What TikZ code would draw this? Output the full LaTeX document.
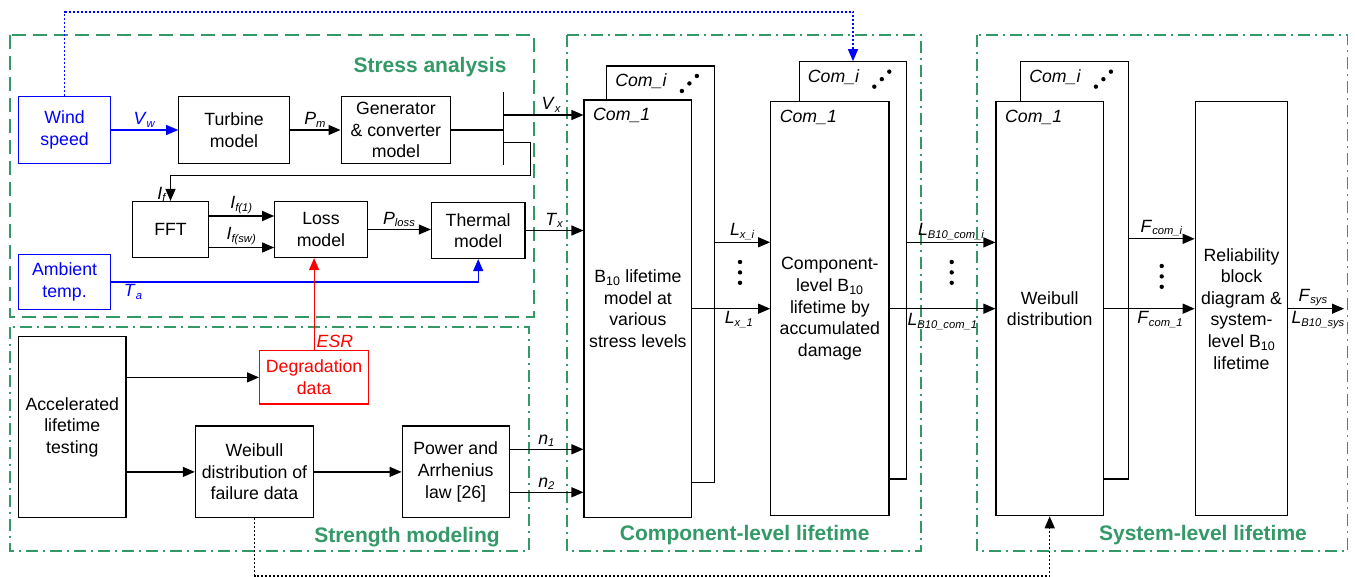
\documentclass[tikz,border=0pt]{standalone}
\usepackage{fontspec}
\setmainfont{Liberation Sans}
\usetikzlibrary{arrows.meta,positioning,calc}
\definecolor{frame}{HTML}{339966}
\definecolor{wind}{HTML}{0000FF}
\definecolor{degr}{HTML}{FF0000}
\newcommand\bodyfont{\fontsize{17.7}{21.6}\selectfont}
\newcommand\sym[2]{\textit{#1}\textsubscript{\fontsize{11.2}{12}\selectfont\textit{#2}}}
\tikzset{
  box/.style={draw,line width=1.2pt,fill=white,align=center,font=\bodyfont,inner sep=1pt},
  arrow/.style={-{Triangle[length=12pt,width=10pt]},line width=1.2pt},
  wire/.style={line width=1.2pt},
  note/.style={font=\bodyfont,inner sep=2pt},
  group/.style={draw=frame,line width=1.5pt,dash pattern=on 12pt off 5pt on 2pt off 5pt},
  groupname/.style={font=\fontsize{21}{25}\selectfont\bfseries,text=frame},
  comtag/.style={font=\bodyfont\itshape,anchor=west,inner sep=0pt},
  link/.style={line width=1.4pt,dash pattern=on 2pt off 2pt}
}
\begin{document}
\begin{tikzpicture}[x=1pt,y=-1pt]
  \useasboundingbox (0,0) rectangle (1355,577);

  % frames of the four stages
  \draw[group,dash pattern=on 14pt off 7pt] (10,35) rectangle (534,317);
  \draw[group] (10,327) rectangle (529,551);
  \draw[group] (567,35) rectangle (921,551);
  \draw[group] (977,35) rectangle (1347.5,551);
  \node[groupname] (stresslab) at (430,66.7) {Stress analysis};
  \node[groupname] (strengthlab) at (407,537.3) {Strength modeling};
  \node[groupname] (complab) at (744.7,535) {Component-level lifetime};
  \node[groupname] (syslab) at (1203,534.7) {System-level lifetime};

  % stress analysis
  \node[box,draw=wind,text=wind,minimum width=92pt,minimum height=66.6pt] (wind) at (64.6,130) {Wind\\speed};
  \node[box,right=67pt of wind,minimum width=110.5pt,minimum height=66.6pt] (turbine) {Turbine\\model};
  \node[box,right=50.6pt of turbine,minimum width=109.6pt,minimum height=66.6pt] (gen) {Generator\\\& converter\\model};
  \node[box,minimum width=75.3pt,minimum height=56pt] (fft) at (170.5,229.5) {FFT};
  \node[box,right=65.4pt of fft,minimum width=92.4pt,minimum height=56pt] (loss) {Loss\\model};
  \node[box,minimum width=93.6pt,minimum height=56pt] (thermal) at (478.2,230.5) {Thermal\\model};
  \node[box,draw=wind,text=wind,minimum width=92pt,minimum height=54.6pt] (ambient) at (64.6,282) {Ambient\\temp.};

  % strength modeling
  \node[box,draw=degr,text=degr,minimum width=109pt,minimum height=53.3pt] (degr) at (314.1,377.4) {Degradation\\data};
  \node[box,minimum width=107.4pt,minimum height=181pt] (accel) at (72.3,427.2) {Accelerated\\lifetime\\testing};
  \node[box,minimum width=118.2pt,minimum height=91.7pt] (weifail) at (254.5,471.9) {Weibull\\distribution of\\failure data};
  \node[box,right=87.4pt of weifail,minimum width=106.9pt,minimum height=91.7pt] (power) {Power and\\Arrhenius\\law [26]};

  % component and system level stacks
  \node[box,minimum width=107.6pt,minimum height=416.3pt] (life1b) at (660.5,274.2) {};
  \node[box,minimum width=107.7pt,minimum height=417.3pt] (life1) at (637.9,308.7)
    {B\textsubscript{10} lifetime\\model at\\various\\stress levels};
  \node[box,minimum width=107.4pt,minimum height=417.3pt] (comp1b) at (853,270.4) {};
  \node[box,minimum width=118.3pt,minimum height=414pt] (comp1) at (829.9,308.7)
    {Component-\\level B\textsubscript{10}\\lifetime by\\accumulated\\damage};
  \node[box,minimum width=107.6pt,minimum height=417.3pt] (weib1b) at (1074.5,270.4) {};
  \node[box,minimum width=107.3pt,minimum height=414pt] (weib1) at (1049.7,308.7) {Weibull\\distribution};
  \node[box,minimum width=92.4pt,minimum height=414pt] (rbd) at (1241.5,308.7)
    {Reliability\\block\\diagram \&\\system-\\level B\textsubscript{10}\\lifetime};

  \foreach \b in {life1b,comp1b,weib1b} {
    \node[comtag] at ([xshift=9pt,yshift=-16pt]\b.north west) {Com\_i};
    \foreach \dx/\dy in {-33/-25.5,-25.5/-18,-18/-10.5}
      \fill ([xshift=\dx pt,yshift=\dy pt]\b.north east) circle (2.2pt);
  }
  \foreach \b in {life1,comp1,weib1}
    \node[comtag] at ([xshift=9.5pt,yshift=-16pt]\b.north west) {Com\_1};

  % signals of the stress analysis
  \coordinate (bustop) at (503.6,91.7);
  \coordinate (busbot) at (503.6,165);
  \coordinate (vx) at (503.6,115);
  \coordinate (ifb) at (503.6,142.7);
  \coordinate (ifturn) at (530.4,175.7);
  \draw[arrow,wind] (wind) -- node[note,above] {\sym{V}{w}} (turbine);
  \draw[arrow] (turbine) -- node[note,above] {\sym{P}{m}} (gen);
  \draw[wire] (bustop) -- (busbot);
  \draw[wire] (gen.east) -- (gen.east -| bustop);
  \draw[arrow] (vx) -- node[note,above,pos=0.6] {\sym{V}{x}} (vx -| life1.west);
  \draw[arrow] (ifb) -| (ifturn) -| node[note,left,pos=0.87,xshift=-1pt] {\sym{I}{f}} (fft.north);
  \draw[arrow] ([yshift=13.5pt]fft.east) -- node[note,above] {\sym{I}{f(1)}} ([yshift=13.5pt]fft.east -| loss.west);
  \draw[arrow] ([yshift=-18pt]fft.east) -- node[note,above] {\sym{I}{f(sw)}} ([yshift=-18pt]fft.east -| loss.west);
  \draw[arrow] (loss.east) -- node[note,above] {\sym{P}{loss}} (loss.east -| thermal.west);
  \draw[arrow] (thermal.east) -- node[note,above] {\sym{T}{x}} (thermal.east -| life1.west);
  \draw[arrow,wind] (ambient.east) -| node[note,below,pos=0.03,text=wind] {\sym{T}{a}} (thermal.south);

  % signals of the strength modeling
  \draw[arrow,degr] (degr.north) -- node[note,right,pos=0.1,text=degr] {\textit{ESR}} (degr.north |- loss.south);
  \draw[arrow] (accel.east |- degr.west) -- (degr.west);
  \draw[arrow] (accel.east |- weifail.west) -- (weifail.west);
  \draw[arrow] (weifail) -- (power);
  \draw[arrow] ([yshift=22.6pt]power.east) -- node[note,above] {\sym{n}{1}} ([yshift=22.6pt]power.east -| life1.west);
  \draw[arrow] ([yshift=-20.4pt]power.east) -- node[note,above] {\sym{n}{2}} ([yshift=-20.4pt]power.east -| life1.west);

  % lifetimes towards the system
  \draw[arrow] ([yshift=31.9pt]life1b.east) -- node[note,above] {\sym{L}{x\_i}} ([yshift=31.9pt]life1b.east -| comp1.west);
  \draw[arrow] (life1.east) -- node[note,below,pos=0.6] {\sym{L}{x\_1}} (life1.east -| comp1.west);
  \draw[arrow] ([yshift=28pt]comp1b.east) -- node[note,above] {\sym{L}{B10\_com\_i}} ([yshift=28pt]comp1b.east -| weib1.west);
  \draw[arrow] (comp1.east) -- node[note,below,yshift=-2pt] {\sym{L}{B10\_com\_1}} (comp1.east -| weib1.west);
  \draw[arrow] ([yshift=31.6pt]weib1b.east) -- node[note,above] {\sym{F}{com\_i}} ([yshift=31.6pt]weib1b.east -| rbd.west);
  \draw[arrow] (weib1.east) -- node[note,below,pos=0.62] {\sym{F}{com\_1}} (weib1.east -| rbd.west);
  \coordinate (sysout) at (1344,309);
  \draw[arrow] (rbd.east) -- node[note,above,xshift=-3pt] {\sym{F}{sys}} node[note,below,xshift=2pt] {\sym{L}{B10\_sys}} (rbd.east -| sysout);
  \foreach \xx/\yy in {740/262,951.7/262,1161.7/266}
    \foreach \k in {0,10.4,20.8}
      \fill (\xx,\yy+\k) circle (2.2pt);

  % feedback links
  \coordinate (toprail) at (0,12);
  \coordinate (botrail) at (0,576);
  \draw[arrow,link,wind] (wind.north) -- (wind.north |- toprail) -| (comp1b.north);
  \draw[arrow,link] (weifail.south) -- (weifail.south |- botrail) -| (weib1.south);
\end{tikzpicture}
\end{document}
